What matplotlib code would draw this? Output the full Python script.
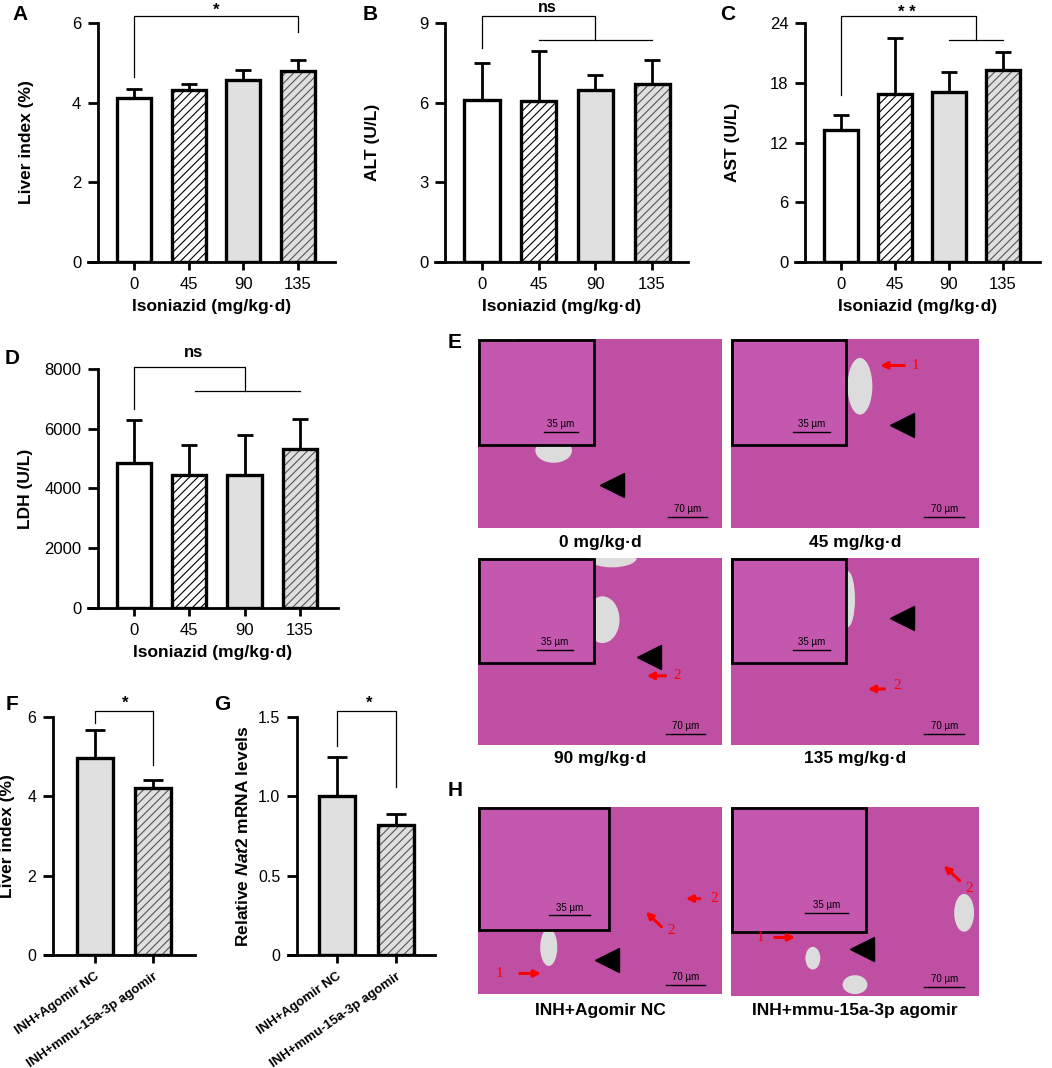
import numpy as np
import matplotlib
matplotlib.use('Agg')
import matplotlib.pyplot as plt
import matplotlib.transforms as mtransforms
from matplotlib.patches import Rectangle, Ellipse

plt.rcParams['font.family'] = ['Liberation Sans', 'DejaVu Sans']
plt.rcParams['mathtext.fontset'] = 'custom'
plt.rcParams['mathtext.it'] = 'Liberation Sans:italic:bold'
plt.rcParams['mathtext.rm'] = 'Liberation Sans:bold'
plt.rcParams['hatch.linewidth'] = 0.8

W, H = 1052, 1068

# ---- data ----
doses = ['0', '45', '90', '135']
liver_mean = [4.12, 4.33, 4.58, 4.79]
liver_sd = [0.22, 0.15, 0.24, 0.28]
alt_mean = [6.10, 6.05, 6.48, 6.70]
alt_sd = [1.40, 1.91, 0.56, 0.90]
ast_mean = [13.25, 16.84, 17.10, 19.28]
ast_sd = [1.51, 5.66, 2.00, 1.82]
ldh_mean = [4843, 4452, 4452, 5312]
ldh_sd = [1450, 1004, 1338, 1024]

groups = ['INH+Agomir NC', 'INH+mmu-15a-3p agomir']
liver2_mean = [4.96, 4.20]
liver2_sd = [0.71, 0.21]
nat2_mean = [1.00, 0.82]
nat2_sd = [0.245, 0.07]

dose_titles = ['0 mg/kg\u00b7d', '45 mg/kg\u00b7d', '90 mg/kg\u00b7d', '135 mg/kg\u00b7d']

# bar styles: face colour, hatch, hatch colour
style4 = [('white', None, None), ('white', '////', 'black'),
          ('#e0e0e0', None, None), ('#e0e0e0', '////', '#555555')]
style2 = [('#e0e0e0', None, None), ('#e0e0e0', '////', '#555555')]

fig = plt.figure(figsize=(W / 100, H / 100), dpi=100)


def rect(l, t, r, b):
    return [l / W, 1 - b / H, (r - l) / W, (b - t) / H]


def bar_axes(l, t, r, b, first, step, n, spine_px, ylim, yticks, yticklabels=None,
             fs=12):
    ax = fig.add_axes(rect(l, t, r, b))
    ax.set_xlim(-(first - l) / step, (n - 1) + (r - (first + (n - 1) * step)) / step)
    ax.set_ylim(*ylim)
    ax.spines['top'].set_visible(False)
    ax.spines['right'].set_visible(False)
    ax.spines['left'].set_position(('data', -(first - spine_px) / step))
    for s in ('left', 'bottom'):
        ax.spines[s].set_linewidth(2)
    ax.set_yticks(yticks)
    if yticklabels is not None:
        ax.set_yticklabels(yticklabels)
    ax.tick_params(axis='y', length=7, width=2, pad=5, labelsize=fs)
    ax.tick_params(axis='x', length=6, width=2, pad=5, labelsize=fs)
    ax.px = (l, t, r, b)
    return ax


def draw_bars(ax, vals, errs, styles, capsize=6):
    x = np.arange(len(vals))
    for xi, v, (fc, hatch, hc) in zip(x, vals, styles):
        if hatch:
            ax.bar(xi, v, 0.62, color=fc, edgecolor=hc, hatch=hatch, linewidth=0, zorder=2)
        else:
            ax.bar(xi, v, 0.62, color=fc, linewidth=0, zorder=2)
        ax.bar(xi, v, 0.62, fill=False, edgecolor='black', linewidth=2.4, zorder=3)
    ax.errorbar(x, vals, yerr=[np.zeros(len(vals)), errs], fmt='none', ecolor='black',
                elinewidth=2, capsize=capsize, capthick=2, zorder=4)


def ylab(ax, text, right_px, fs=12.5):
    l, t, r, b = ax.px
    ax.set_ylabel(text, fontsize=fs, fontweight='bold')
    ax.yaxis.set_label_coords((right_px - l) / (r - l), 0.5)


def line(ax, xs, ys):
    ax.plot(xs, ys, color='black', lw=0.9, clip_on=False, zorder=5)


def sig(ax, x, baseline_px, text, fs=12):
    # x in data units, baseline given in figure pixels from the top
    tr = mtransforms.blended_transform_factory(ax.transData, fig.transFigure)
    ax.text(x, 1 - baseline_px / H, text, transform=tr, ha='center', va='baseline',
            fontsize=fs, fontweight='bold')


def isoniazid_x(ax):
    ax.set_xticks(range(4))
    ax.set_xticklabels(doses)
    ax.set_xlabel('Isoniazid (mg/kg\u00b7d)', fontsize=12.5, fontweight='bold', labelpad=5)


# ---- A ----
axA = bar_axes(88, 23, 335, 262, 134, 54.7, 4, 98, (0, 6), [0, 2, 4, 6])
draw_bars(axA, liver_mean, liver_sd, style4)
isoniazid_x(axA)
ylab(axA, 'Liver index (%)', 34)
line(axA, [0, 0, 3, 3], [4.64, 6.18, 6.18, 5.77])
sig(axA, 1.5, 15, '*')

# ---- B ----
axB = bar_axes(435, 23, 688, 262, 482, 56.7, 4, 445, (0, 9), [0, 3, 6, 9])
draw_bars(axB, alt_mean, alt_sd, style4)
isoniazid_x(axB)
ylab(axB, 'ALT (U/L)', 380)
line(axB, [0, 0, 2, 2], [8.06, 9.26, 9.26, 8.36])
line(axB, [1, 3], [8.36, 8.36])
sig(axB, 1.15, 12.5, 'ns', fs=11.5)

# ---- C ----
axC = bar_axes(795, 23, 1040, 262, 841, 54, 4, 805, (0, 24), [0, 6, 12, 18, 24])
draw_bars(axC, ast_mean, ast_sd, style4)
isoniazid_x(axC)
ylab(axC, 'AST (U/L)', 740)
line(axC, [0, 0, 2.5, 2.5], [16.77, 24.7, 24.7, 22.3])
line(axC, [2, 3], [22.3, 22.3])
sig(axC, 1.22, 17, '* *')

# ---- D ----
axD = bar_axes(88, 369, 338, 608, 134, 55.3, 4, 98, (0, 8000), [0, 2000, 4000, 6000, 8000])
draw_bars(axD, ldh_mean, ldh_sd, style4)
isoniazid_x(axD)
ylab(axD, 'LDH (U/L)', 33)
line(axD, [0, 0, 2, 2], [6661, 8067, 8067, 7264])
line(axD, [1.1, 3.0], [7264, 7264])
sig(axD, 1.07, 357, 'ns')

# ---- F ----
axF = bar_axes(45, 717, 195, 955, 95, 58, 2, 53, (0, 6), [0, 2, 4, 6], fs=11.5)
draw_bars(axF, liver2_mean, liver2_sd, style2, capsize=7.5)
ylab(axF, 'Liver index (%)', 15)
line(axF, [0, 0, 1, 1], [5.85, 6.15, 6.15, 4.79])
sig(axF, 0.52, 708, '*')

# ---- G ----
axG = bar_axes(288, 717, 435, 955, 337, 59, 2, 297, (0, 1.5), [0, 0.5, 1.0, 1.5],
               ['0', '0.5', '1.0', '1.5'], fs=11.5)
draw_bars(axG, nat2_mean, nat2_sd, style2, capsize=7.5)
ylab(axG, r'Relative $\mathit{Nat2}$ mRNA levels', 251)
line(axG, [0, 0, 1, 1], [1.32, 1.538, 1.538, 1.06])
sig(axG, 0.55, 708, '*')

for ax in (axF, axG):
    ax.set_xticks(range(2))
    ax.set_xticklabels(groups, rotation=35, ha='right', va='top',
                       rotation_mode='anchor', fontsize=9.5, fontweight='bold')

# ---- micrographs (E, H) ----
TISSUE = '#bf4fa3'
INSET = '#c457ae'
VESSEL = '#dcdcdc'


def micro(l, t, r, b, inset_w, inset_h, title, title_y, vessels, tri, arrows,
          sb35, sb70):
    ax = fig.add_axes(rect(l, t, r, b))
    ax.set_xlim(0, 1)
    ax.set_ylim(0, 1)
    ax.set_xticks([])
    ax.set_yticks([])
    for s in ax.spines.values():
        s.set_visible(False)
    ax.add_patch(Rectangle((0, 0), 1, 1, facecolor=TISSUE, edgecolor='none'))
    for (cx, cy, ew, eh) in vessels:
        ax.add_patch(Ellipse((cx, cy), ew, eh, facecolor=VESSEL, edgecolor='none'))
    ax.add_patch(Rectangle((0.005, 1 - inset_h), inset_w, inset_h - 0.005,
                           facecolor=INSET, edgecolor='black', linewidth=2))
    ax.plot(tri[0], tri[1], marker='<', color='black', markersize=17, linestyle='none')
    for (x0, y0, x1, y1, lab, lx, ly) in arrows:
        ax.annotate('', xy=(x1, y1), xytext=(x0, y0),
                    arrowprops=dict(arrowstyle='-|>', color='red', lw=2.2,
                                    mutation_scale=10))
        ax.text(lx, ly, lab, color='red', fontsize=11, family='Liberation Serif',
                ha='center', va='center')
    x0, x1, y = sb35
    ax.plot([x0, x1], [y, y], color='black', lw=1)
    ax.text((x0 + x1) / 2, y + 0.015, '35 \u00b5m', fontsize=7, ha='center', va='bottom')
    x0, x1, y = sb70
    ax.plot([x0, x1], [y, y], color='black', lw=1)
    ax.text((x0 + x1) / 2, y + 0.015, '70 \u00b5m', fontsize=7, ha='center', va='bottom')
    fig.text((l + r) / 2 / W, 1 - title_y / H, title, fontsize=12.5, fontweight='bold',
             ha='center', va='center')
    return ax


micro(478, 339, 722, 528, 0.47, 0.56, dose_titles[0], 543,
      [(0.31, 0.41, 0.15, 0.13), (0.08, 0.95, 0.2, 0.15)], (0.55, 0.23), [],
      (0.27, 0.41, 0.51), (0.78, 0.94, 0.06))
micro(731, 339, 979, 528, 0.46, 0.56, dose_titles[1], 543,
      [(0.52, 0.75, 0.1, 0.3)], (0.69, 0.545),
      [(0.71, 0.86, 0.59, 0.86, '1', 0.745, 0.86)],
      (0.25, 0.40, 0.51), (0.78, 0.94, 0.06))
micro(478, 558, 722, 745, 0.47, 0.56, dose_titles[2], 759,
      [(0.51, 0.67, 0.14, 0.25), (0.55, 1.0, 0.2, 0.1)], (0.70, 0.47),
      [(0.78, 0.37, 0.68, 0.37, '2', 0.815, 0.37)],
      (0.24, 0.39, 0.51), (0.77, 0.93, 0.06))
micro(731, 558, 979, 745, 0.46, 0.56, dose_titles[3], 759,
      [(0.47, 0.78, 0.06, 0.3)], (0.69, 0.68),
      [(0.63, 0.30, 0.54, 0.30, '2', 0.67, 0.32)],
      (0.25, 0.40, 0.51), (0.78, 0.94, 0.06))
micro(478, 807, 722, 994, 0.53, 0.66, groups[0], 1010,
      [(0.29, 0.25, 0.07, 0.2), (0.02, 0.7, 0.04, 0.35)], (0.53, 0.18),
      [(0.16, 0.11, 0.27, 0.11, '1', 0.09, 0.11),
       (0.92, 0.51, 0.84, 0.51, '2', 0.97, 0.51),
       (0.76, 0.35, 0.68, 0.45, '2', 0.79, 0.34)],
      (0.29, 0.46, 0.42), (0.77, 0.93, 0.05))
micro(731, 807, 979, 996, 0.54, 0.66, groups[1], 1010,
      [(0.33, 0.20, 0.06, 0.12), (0.50, 0.06, 0.1, 0.1), (0.94, 0.44, 0.08, 0.2),
       (0.08, 0.75, 0.12, 0.4)], (0.53, 0.25),
      [(0.165, 0.31, 0.27, 0.31, '1', 0.12, 0.31),
       (0.93, 0.60, 0.85, 0.70, '2', 0.96, 0.57)],
      (0.30, 0.47, 0.44), (0.78, 0.94, 0.05))

# ---- panel letters ----
for lab, x, y in [('A', 20, 15), ('B', 370, 15), ('C', 728, 15), ('D', 12, 358),
                  ('E', 455, 342), ('F', 12, 705), ('G', 222, 705), ('H', 455, 790)]:
    fig.text(x / W, 1 - y / H, lab, fontsize=15, fontweight='bold', ha='center',
             va='center')

fig.savefig('out.png', dpi=100)
